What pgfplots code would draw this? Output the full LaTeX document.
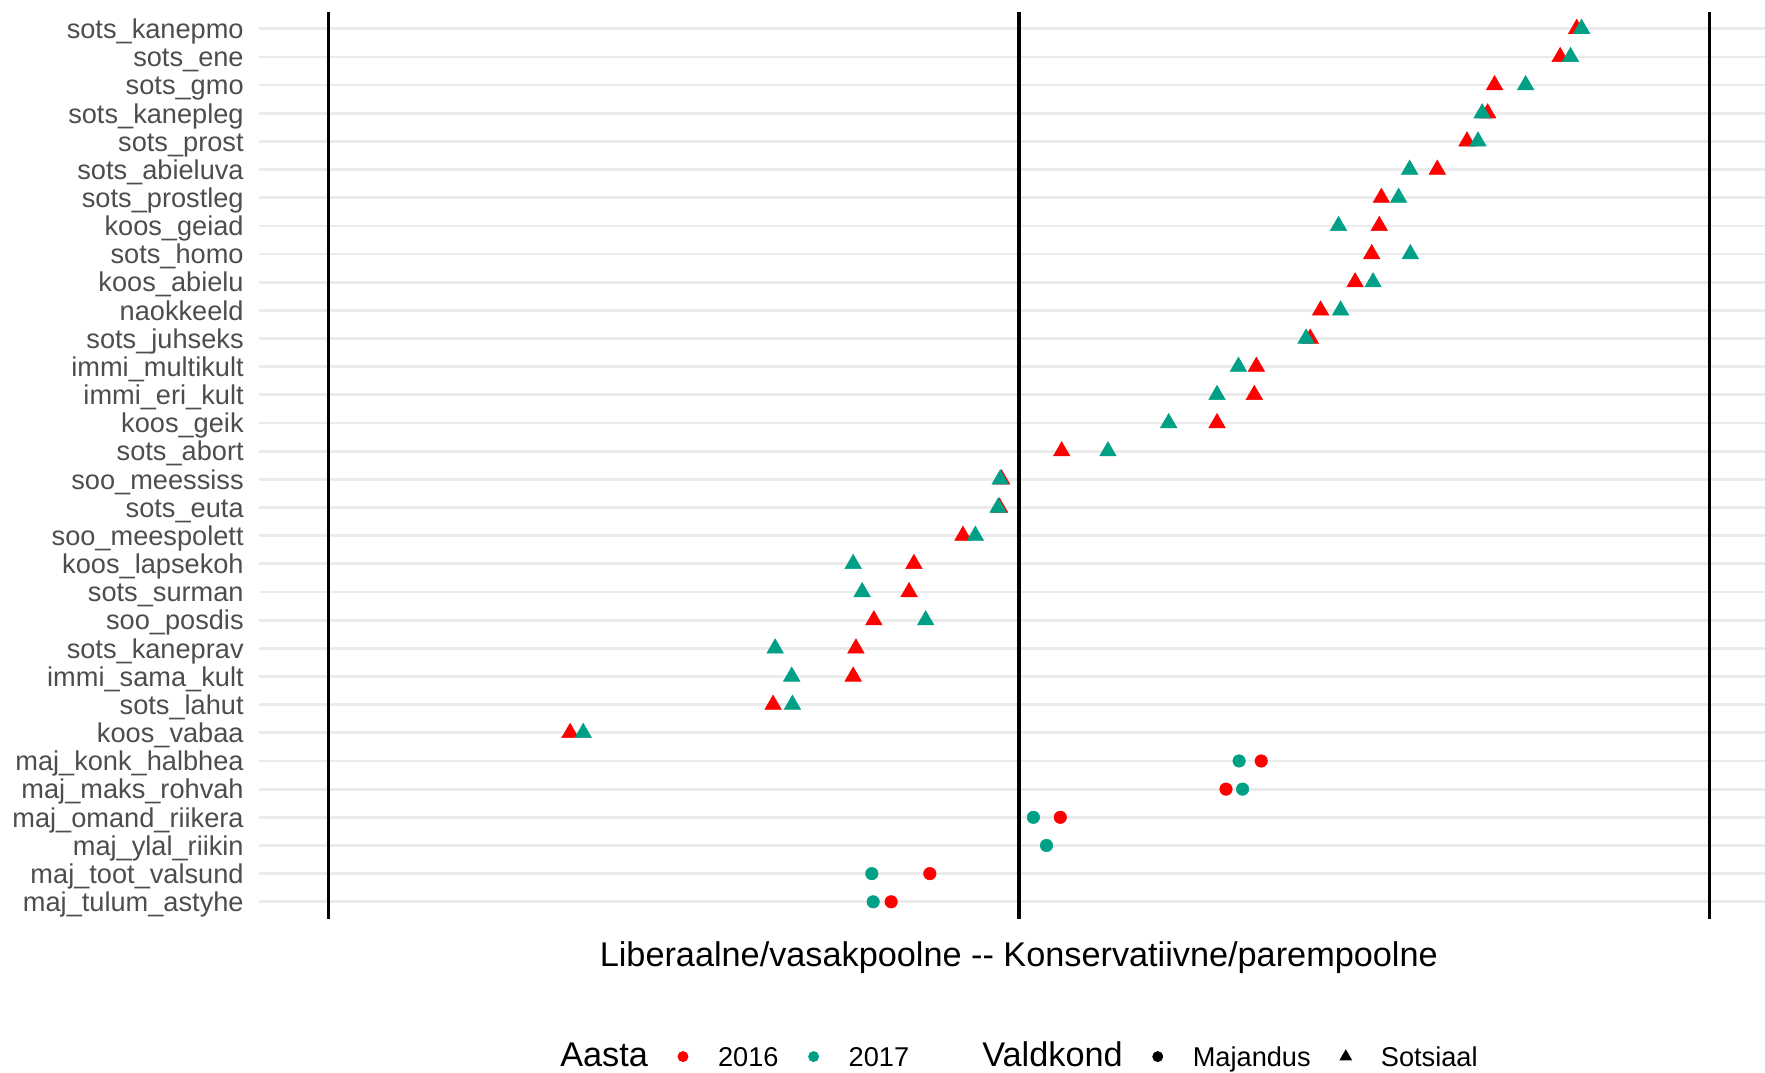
\documentclass[border=0pt]{standalone}
\usepackage{fontspec}
\setmainfont{Liberation Sans}
\usepackage{pgfplots}
\usepackage{pgfplotstable}
\pgfplotsset{compat=1.18}

\definecolor{aasta16}{HTML}{FF0000}
\definecolor{aasta17}{HTML}{00A087}
\definecolor{grid92}{HTML}{EBEBEB}
\definecolor{grey30}{HTML}{4D4D4D}

% legend keys: dot/triangle cell and an empty cell before the titles
\pgfplotsset{
  dotkey/.style={legend image code/.code={%
    \path[draw=none, fill=none] (-12.9pt,0pt) rectangle (12.9pt,0.1pt);
    \draw[##1] plot coordinates {(0pt,3.6pt)};}},
  titlekey/.style={legend image code/.code={%
    \path[draw=none, fill=none] (0pt,0pt) rectangle (#1,0.1pt);}},
}

% row index: 0 = sots_kanepmo (top) ... 31 = maj_tulum_astyhe (bottom)
\pgfplotstableread{
y x
0 0.808
1 0.784
2 0.689
3 0.679
4 0.649
5 0.606
6 0.525
7 0.522
8 0.511
9 0.487
10 0.437
11 0.422
12 0.344
13 0.341
14 0.287
15 0.062
16 -0.025
17 -0.028
18 -0.081
19 -0.152
20 -0.159
21 -0.210
22 -0.236
23 -0.240
24 -0.356
25 -0.650
}\sotsSixteen

\pgfplotstableread{
y x
0 0.815
1 0.799
2 0.734
3 0.671
4 0.665
5 0.566
6 0.550
7 0.463
8 0.567
9 0.513
10 0.466
11 0.416
12 0.318
13 0.287
14 0.217
15 0.129
16 -0.027
17 -0.030
18 -0.063
19 -0.240
20 -0.227
21 -0.135
22 -0.353
23 -0.329
24 -0.328
25 -0.631
}\sotsSeventeen

\pgfplotstableread{
y x
26 0.351
27 0.300
28 0.060
30 -0.129
31 -0.185
}\majSixteen

\pgfplotstableread{
y x
26 0.319
27 0.324
28 0.021
29 0.040
30 -0.213
31 -0.211
}\majSeventeen

\begin{document}
\begin{tikzpicture}
\begin{axis}[
    scale only axis,
    width=553.7pt, height=333.5pt,
    xmin=-1.1, xmax=1.0807,
    ymin=-0.6, ymax=31.6,
    y dir=reverse,
    axis line style={draw=none},
    major tick length=0pt,
    xtick=\empty,
    ytick={0,...,31},
    yticklabels={sots\_kanepmo, sots\_ene, sots\_gmo, sots\_kanepleg, sots\_prost,
      sots\_abieluva, sots\_prostleg, koos\_geiad, sots\_homo, koos\_abielu,
      naokkeeld, sots\_juhseks, immi\_multikult, immi\_eri\_kult, koos\_geik,
      sots\_abort, soo\_meessiss, sots\_euta, soo\_meespolett, koos\_lapsekoh,
      sots\_surman, soo\_posdis, sots\_kaneprav, immi\_sama\_kult, sots\_lahut,
      koos\_vabaa, maj\_konk\_halbhea, maj\_maks\_rohvah, maj\_omand\_riikera,
      maj\_ylal\_riikin, maj\_toot\_valsund, maj\_tulum\_astyhe},
    yticklabel style={font=\fontsize{10}{12}\selectfont, text=grey30,
      inner xsep=0pt, inner ysep=0pt, anchor=base east, yshift=-3.6pt},
    yticklabel shift=5.6pt,
    ymajorgrids,
    grid style={grid92, line width=1pt},
    xlabel={Liberaalne/vasakpoolne -{}- Konservatiivne/parempoolne},
    xlabel style={font=\fontsize{12.6}{15}\selectfont, at={(0.5044,0)},
      anchor=center, yshift=-14.5pt},
    legend columns=-1,
    legend style={draw=none, fill=none, inner sep=0pt, column sep=0pt,
      at={(0.5044,0)}, anchor=center, yshift=-50.5pt,
      font=\fontsize{10}{12}\selectfont,
      cells={anchor=base west}, nodes={inner sep=0pt, anchor=base west}},
]
% reference lines at -1, 0, 1
\addplot[black, line width=1.2pt, forget plot] coordinates {(-1,-0.6) (-1,31.6)};
\addplot[black, line width=1.2pt, forget plot] coordinates {(0,-0.6) (0,31.6)};
\addplot[black, line width=1.2pt, forget plot] coordinates {(1,-0.6) (1,31.6)};

% Sotsiaal (triangles) and Majandus (dots), 2016 under 2017
\addplot[only marks, mark=triangle*, mark size=3.5pt, color=aasta16,
  mark options={line width=0.2pt}, forget plot] table[x=x, y=y] {\sotsSixteen};
\addplot[only marks, mark=*, mark size=2.3pt, color=aasta16,
  mark options={line width=0.2pt}, forget plot] table[x=x, y=y] {\majSixteen};
\addplot[only marks, mark=triangle*, mark size=3.5pt, color=aasta17,
  mark options={line width=0.2pt}, forget plot] table[x=x, y=y] {\sotsSeventeen};
\addplot[only marks, mark=*, mark size=2.3pt, color=aasta17,
  mark options={line width=0.2pt}, forget plot] table[x=x, y=y] {\majSeventeen};

% legend
\addlegendimage{titlekey=0.1pt}
\addlegendentry{\fontsize{12.6}{15}\selectfont Aasta\hspace{2.9pt}}
\addlegendimage{only marks, mark=*, mark size=1.8pt, color=aasta16, dotkey}
\addlegendentry{2016}
\addlegendimage{only marks, mark=*, mark size=1.8pt, color=aasta17, dotkey}
\addlegendentry{2017}
\addlegendimage{titlekey=26.9pt}
\addlegendentry{\fontsize{12.6}{15}\selectfont Valdkond\hspace{2.9pt}}
\addlegendimage{only marks, mark=*, mark size=1.8pt, color=black, dotkey}
\addlegendentry{Majandus}
\addlegendimage{only marks, mark=triangle*, mark size=2.3pt, color=black, dotkey}
\addlegendentry{Sotsiaal}
\end{axis}
\pgfresetboundingbox
\path ([xshift=-95.4pt, yshift=-56.7pt]current axis.south west)
  rectangle ([yshift=4.35pt]current axis.north east);
\end{tikzpicture}
\end{document}
